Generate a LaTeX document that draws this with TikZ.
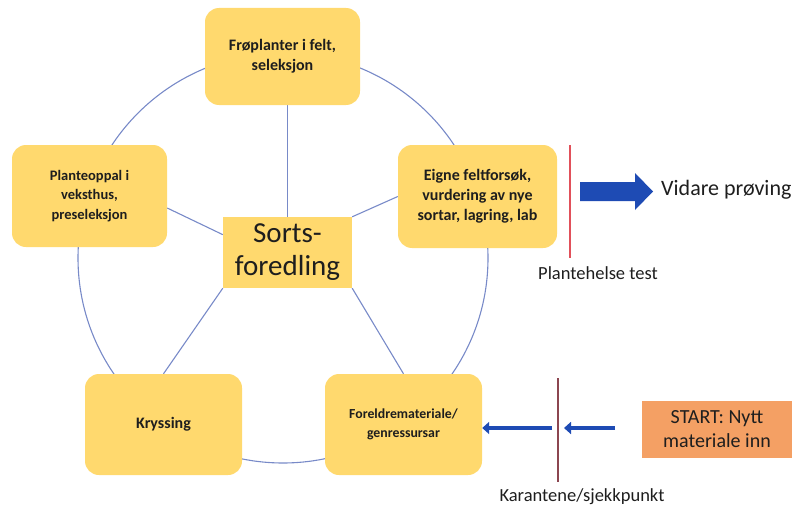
\documentclass[tikz,border=0pt]{standalone}
\usepackage{fontspec}
\setmainfont{Carlito}
\usetikzlibrary{calc,backgrounds,arrows.meta}
\definecolor{boxy}{RGB}{255,217,110}
\definecolor{ringc}{RGB}{120,138,200}
\definecolor{arrb}{RGB}{30,75,180}
\definecolor{startc}{RGB}{244,160,100}
\definecolor{redl}{RGB}{225,80,90}
\definecolor{brownl}{RGB}{140,70,80}
\definecolor{txt}{RGB}{30,30,30}
\tikzset{
  cycbox/.style={draw=none, fill=boxy, rounded corners=14pt, inner sep=0pt, align=center,
     font=\bfseries\fontsize{16}{20}\selectfont, text=txt},
  ring/.style={draw=ringc, line width=1.1pt},
  thinarr/.style={draw=arrb, line width=4.5pt, -{Triangle[length=7pt,width=12pt]}},
  lbl/.style={font=\fontsize{18.5}{20}\selectfont, text=txt, inner sep=0pt}
}
\begin{document}
\begin{tikzpicture}[x=1pt,y=-1pt]
\useasboundingbox (0,0) rectangle (795,511);
% cycle boxes
\node[cycbox, minimum width=155pt, minimum height=97pt] (top) at (282.5,56.5) {Frøplanter i felt,\\seleksjon};
\node[cycbox, minimum width=155pt, minimum height=102pt, font=\bfseries\fontsize{14.5}{19.5}\selectfont] (lft) at (89.5,196) {Planteoppal i\\veksthus,\\preseleksjon};
\node[cycbox, minimum width=159pt, minimum height=103pt] (rgt) at (477.5,196.5) {Eigne feltforsøk,\\vurdering av nye\\sortar, lagring, lab};
\node[cycbox, minimum width=157pt, minimum height=101pt] (kry) at (163.5,424.5) {Kryssing};
\node[cycbox, minimum width=157pt, minimum height=101pt, font=\bfseries\fontsize{13.8}{18.5}\selectfont] (for) at (403.5,424.5) {Foreldremateriale/\\genressursar};
\node[fill=boxy, minimum width=129pt, minimum height=71pt, inner sep=0pt, align=center,
      font=\fontsize{29}{33}\selectfont, text=txt] (ctr) at (287.5,252.5) {Sorts-\\foredling};
% ring and spokes
\begin{scope}[on background layer]
\draw[ring] (283,258) circle[radius=205pt];
\draw[ring] (ctr.north) -- (ctr.north |- top.south);
\draw[ring] ($(lft.east)+(0,12)$) -- ($(ctr.north west)!0.5!(ctr.west)$);
\draw[ring] (ctr.north east) -- (rgt.west);
\draw[ring] (ctr.south west) -- (kry.north);
\draw[ring] (ctr.south east) -- (for.north);
\end{scope}
% right side: plant health test and further testing
\coordinate (rl1) at (570,145);
\coordinate (rl2) at (570,258);
\draw[redl, line width=1.2pt] (rl1) -- (rl2);
\node[lbl, anchor=center] (pht) at (598,273) {Plantehelse test};
\node[font=\fontsize{22}{24}\selectfont, text=txt, anchor=west, inner sep=0pt] (vid) at (661,190) {Vidare prøving};
\fill[arrb] (580,182) -- (635,182) -- (635,173) -- (653,191.5) -- (635,210) -- (635,201) -- (580,201) -- cycle;
% bottom right: start and quarantine
\node[fill=startc, minimum width=150pt, minimum height=57pt, inner sep=0pt, align=center,
      font=\fontsize{20}{24}\selectfont, text=txt] (start) at (717,429.5) {START: Nytt\\materiale inn};
\coordinate (kl1) at (558,378);
\coordinate (kl2) at (558,482);
\draw[brownl, line width=1.2pt] (kl1) -- (kl2);
\node[lbl] (kar) at (582,497) {Karantene/sjekkpunkt};
\coordinate (a2s) at (615,428);
\coordinate (a2e) at (564,428);
\draw[thinarr] (a2s) -- (a2e);
\coordinate (a1s) at (552,428);
\draw[thinarr] (a1s) -- (for.east |- a1s);
\end{tikzpicture}
\end{document}
